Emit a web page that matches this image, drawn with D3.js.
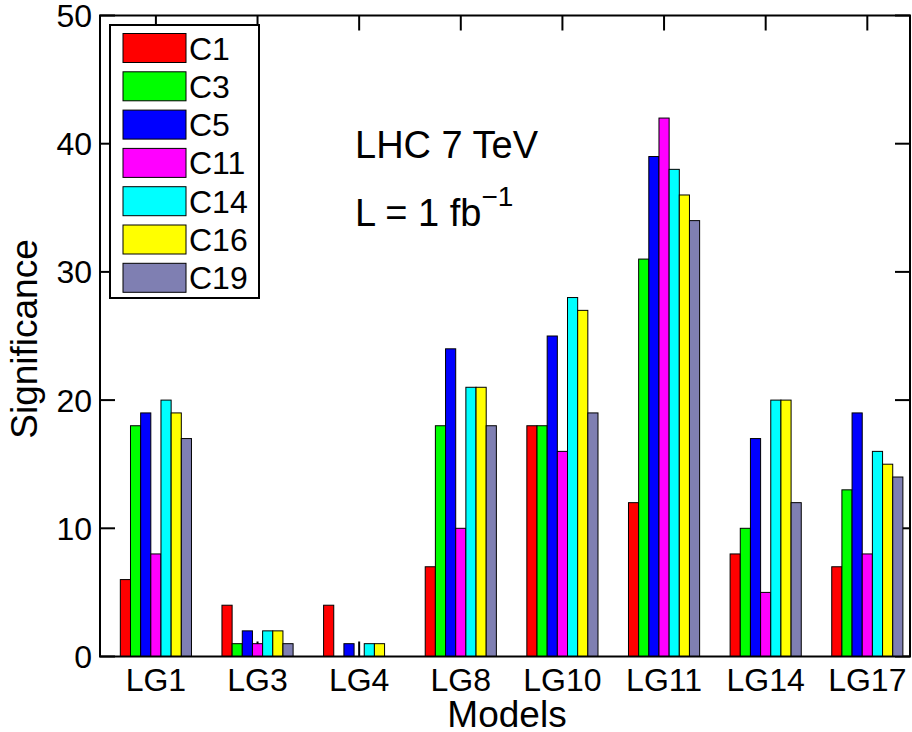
<!DOCTYPE html>
<html>
<head>
<meta charset="utf-8">
<script src="https://cdn.jsdelivr.net/npm/d3@7"></script>
<style>
  body { margin: 0; background: #fff; }
  text { font-family: "Liberation Sans", Arial, sans-serif; fill: #000; }
</style>
</head>
<body>
<svg width="912" height="732"></svg>
<script>
var models = ["LG1", "LG3", "LG4", "LG8", "LG10", "LG11", "LG14", "LG17"];
var seriesNames = ["C1", "C3", "C5", "C11", "C14", "C16", "C19"];
var colors = ["#ff0000", "#00ff00", "#0000ff", "#ff00ff", "#00ffff", "#ffff00", "#7f7fb2"];

// significance per model, one array per series
var C1  = [6, 4, 4, 7, 18, 12, 8, 7];
var C3  = [18, 1, 0, 18, 18, 31, 10, 13];
var C5  = [19, 2, 1, 24, 25, 39, 17, 19];
var C11 = [8, 1, 0, 10, 16, 42, 5, 8];
var C14 = [20, 2, 1, 21, 28, 38, 20, 16];
var C16 = [19, 2, 1, 21, 27, 36, 20, 15];
var C19 = [17, 1, 0, 18, 19, 34, 12, 14];
var yTicks = [0, 10, 20, 30, 40, 50];

var series = [C1, C3, C5, C11, C14, C16, C19];

// plot box (note: "top" is taken by window, so pTop etc)
var pLeft = 100, pRight = 910, pTop = 15.5, pBottom = 656.5;
var barW = 0.1; // in x units, bars touch

var x = d3.scaleLinear().domain([0.45, 8.42]).range([pLeft, pRight]);
var y = d3.scaleLinear().domain([0, 50]).range([pBottom, pTop]);

var svg = d3.select("svg");

// ticks first (they sit under the bars)
var ticks = svg.append("g").attr("stroke", "#000").attr("stroke-width", 2);
var tickLen = 15;
yTicks.forEach(function(t) {
  ticks.append("line").attr("x1", pLeft).attr("x2", pLeft + tickLen).attr("y1", y(t)).attr("y2", y(t));
  ticks.append("line").attr("x1", pRight).attr("x2", pRight - tickLen).attr("y1", y(t)).attr("y2", y(t));
});
models.forEach(function(m, i) {
  ticks.append("line").attr("x1", x(i + 1)).attr("x2", x(i + 1)).attr("y1", pBottom).attr("y2", pBottom - tickLen);
  ticks.append("line").attr("x1", x(i + 1)).attr("x2", x(i + 1)).attr("y1", pTop).attr("y2", pTop + tickLen);
});

// bars
series.forEach(function(vals, s) {
  svg.append("g")
    .selectAll("rect")
    .data(vals)
    .enter()
    .append("rect")
    .attr("x", function(d, i) { return x(i + 1 + (s - 3.5) * barW); })
    .attr("width", x(barW) - x(0))
    .attr("y", function(d) { return y(d); })
    .attr("height", function(d) { return y(0) - y(d); })
    .attr("fill", colors[s])
    .attr("stroke", function(d) { return d > 0 ? "#000" : "none"; })
    .attr("stroke-width", 1);
});

// frame
svg.append("rect")
  .attr("x", pLeft).attr("y", pTop)
  .attr("width", pRight - pLeft).attr("height", pBottom - pTop)
  .attr("fill", "none").attr("stroke", "#000").attr("stroke-width", 2);

// tick labels
svg.selectAll(".ylab")
  .data(yTicks)
  .enter()
  .append("text")
  .attr("x", 92)
  .attr("y", function(d) { return y(d); })
  .attr("dy", "0.36em")
  .attr("text-anchor", "end")
  .style("font-size", "32px")
  .text(function(d) { return d; });

svg.selectAll(".xlab")
  .data(models)
  .enter()
  .append("text")
  .attr("x", function(d, i) { return x(i + 1); })
  .attr("y", 691)
  .attr("text-anchor", "middle")
  .style("font-size", "32px")
  .text(function(d) { return d; });

// axis titles
svg.append("text")
  .attr("x", (pLeft + pRight) / 2 + 2)
  .attr("y", 727)
  .attr("text-anchor", "middle")
  .style("font-size", "37px")
  .text("Models");

svg.append("text")
  .attr("transform", "translate(37," + ((pTop + pBottom) / 2 + 3) + ") rotate(-90)")
  .attr("text-anchor", "middle")
  .style("font-size", "37px")
  .text("Significance");

// annotation
svg.append("text")
  .attr("x", 355).attr("y", 158)
  .style("font-size", "38px")
  .text("LHC 7 TeV");

var lum = svg.append("text")
  .attr("x", 355).attr("y", 226)
  .style("font-size", "38px");
lum.append("tspan").text("L = 1 fb");
lum.append("tspan").attr("dy", -20).style("font-size", "28px").text("\u22121");

// legend
var leg = svg.append("g");
leg.append("rect")
  .attr("x", 110).attr("y", 25)
  .attr("width", 149).attr("height", 273)
  .attr("fill", "#fff").attr("stroke", "#000").attr("stroke-width", 2);

var items = leg.selectAll(".item")
  .data(seriesNames)
  .enter()
  .append("g")
  .attr("transform", function(d, i) { return "translate(0," + (33.5 + i * 38.3) + ")"; });

items.append("rect")
  .attr("x", 123).attr("y", 0)
  .attr("width", 63).attr("height", 29)
  .attr("fill", function(d, i) { return colors[i]; })
  .attr("stroke", "#000").attr("stroke-width", 1);

items.append("text")
  .attr("x", 189).attr("y", 14.5)
  .attr("dy", "0.36em")
  .style("font-size", "32px")
  .text(function(d) { return d; });
</script>
</body>
</html>
